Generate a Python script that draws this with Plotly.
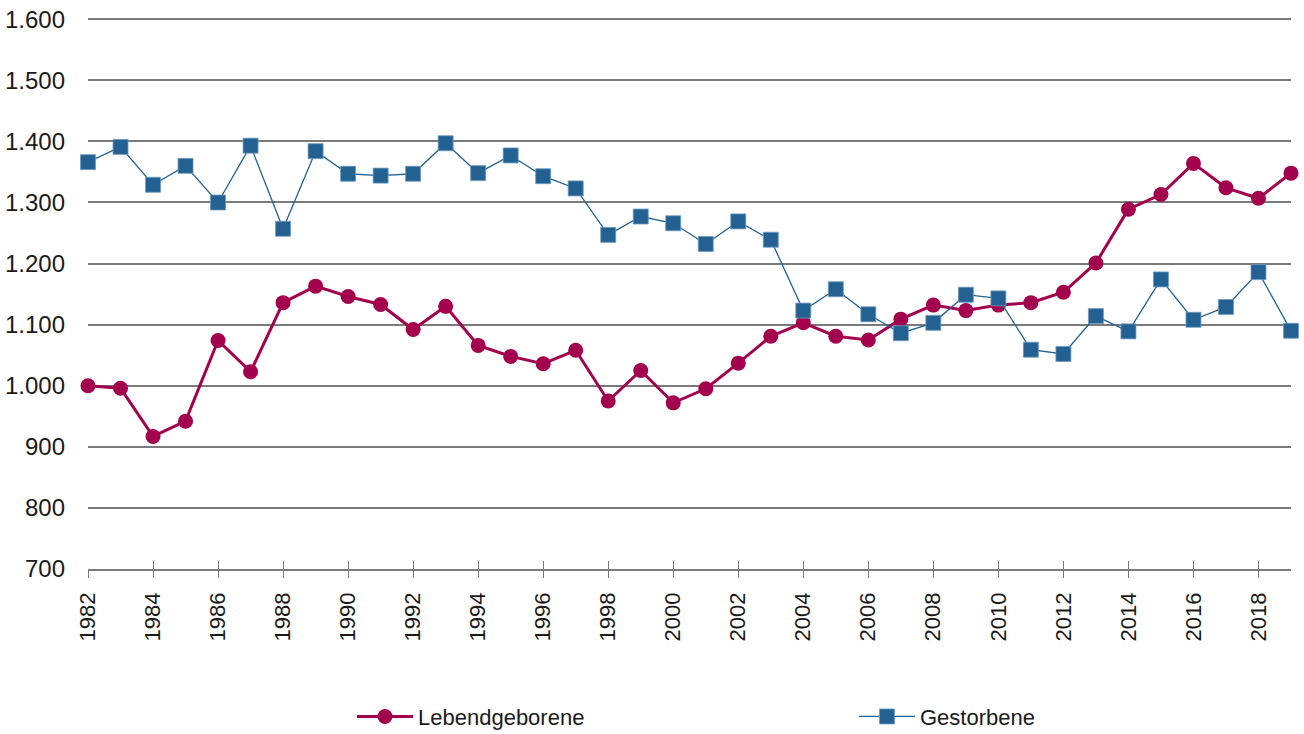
import plotly.graph_objects as go

years = list(range(1982, 2020))

lebendgeborene = [1000, 996, 917, 942, 1074, 1023, 1136, 1163, 1146, 1133,
                  1092, 1130, 1066, 1048, 1036, 1058, 975, 1025, 972, 995,
                  1037, 1081, 1103, 1081, 1075, 1109, 1132, 1123, 1132, 1136,
                  1153, 1201, 1289, 1313, 1364, 1324, 1307, 1348]

gestorbene = [1366, 1391, 1329, 1360, 1300, 1393, 1257, 1384, 1347, 1344,
              1347, 1397, 1348, 1377, 1343, 1323, 1247, 1277, 1266, 1232,
              1269, 1239, 1123, 1158, 1117, 1086, 1103, 1149, 1143, 1059,
              1052, 1114, 1089, 1174, 1108, 1129, 1186, 1090]

y_ticks = [700, 800, 900, 1000, 1100, 1200, 1300, 1400, 1500, 1600]
x_ticks = list(range(1982, 2019, 2))

RED = "#A3004D"
BLUE = "#236192"
GRID = "#7a7a7a"
FONT = "Liberation Sans, Arial, sans-serif"
TXT = "#1a1a1a"

W, H = 1304, 734
ML, MR, MT, MB = 88, 13, 18, 165
PW = W - ML - MR

fig = go.Figure()
fig.add_trace(go.Scatter(
    x=years, y=lebendgeborene, name="Lebendgeborene", mode="lines+markers",
    line=dict(color=RED, width=3),
    marker=dict(symbol="circle", size=15, color=RED),
    cliponaxis=False, legend="legend",
))
fig.add_trace(go.Scatter(
    x=years, y=gestorbene, name="Gestorbene", mode="lines+markers",
    line=dict(color=BLUE, width=1.3),
    marker=dict(symbol="square", size=15, color=BLUE,
                line=dict(color="#6f9cc0", width=0.8)),
    cliponaxis=False, legend="legend2",
))

legend_common = dict(
    orientation="h", yanchor="middle", y=-0.268, xanchor="left",
    font=dict(family=FONT, size=22, color=TXT),
    bgcolor="rgba(0,0,0,0)", itemwidth=56,
)

fig.update_layout(
    width=W, height=H,
    margin=dict(l=ML, r=MR, t=MT, b=MB, autoexpand=False),
    paper_bgcolor="white", plot_bgcolor="white",
    separators=",.",
    font=dict(family=FONT, size=22, color=TXT),
    showlegend=True,
    legend=dict(x=(352 - ML) / PW, **legend_common),
    legend2=dict(x=(854 - ML) / PW, **legend_common),
    xaxis=dict(
        range=[1982, 2019], tickmode="array", tickvals=x_ticks,
        ticktext=[str(v) for v in x_ticks], tickangle=-90,
        showgrid=False, zeroline=False, automargin=False,
        showline=True, linecolor=GRID, linewidth=1.5,
        ticks="outside", ticklen=7, tickcolor=GRID, tickwidth=1.2,
        ticklabelstandoff=6,
        tickfont=dict(family=FONT, size=22, color=TXT),
    ),
    xaxis2=dict(
        range=[1982, 2019], overlaying="x", anchor="y", side="bottom",
        tickmode="array", tickvals=x_ticks, showticklabels=False,
        showgrid=False, zeroline=False, showline=False, automargin=False,
        ticks="inside", ticklen=8, tickcolor=GRID, tickwidth=1.2,
    ),
    yaxis=dict(
        range=[700, 1602], tickmode="array", tickvals=y_ticks,
        tickformat=",.0f", showgrid=True, gridcolor=GRID, gridwidth=1.5,
        zeroline=False, showline=False, ticks="", ticklabelstandoff=22,
        automargin=False,
        tickfont=dict(family=FONT, size=24, color=TXT),
    ),
)
# invisible trace to activate the overlay axis for the inside tick marks
fig.add_trace(go.Scatter(x=[years[0]], y=[y_ticks[0]], xaxis="x2", mode="markers",
                         marker=dict(opacity=0), showlegend=False, hoverinfo="skip"))

fig.write_html("out.html", config={"displayModeBar": False},
               post_script="document.body.style.margin='0';")
